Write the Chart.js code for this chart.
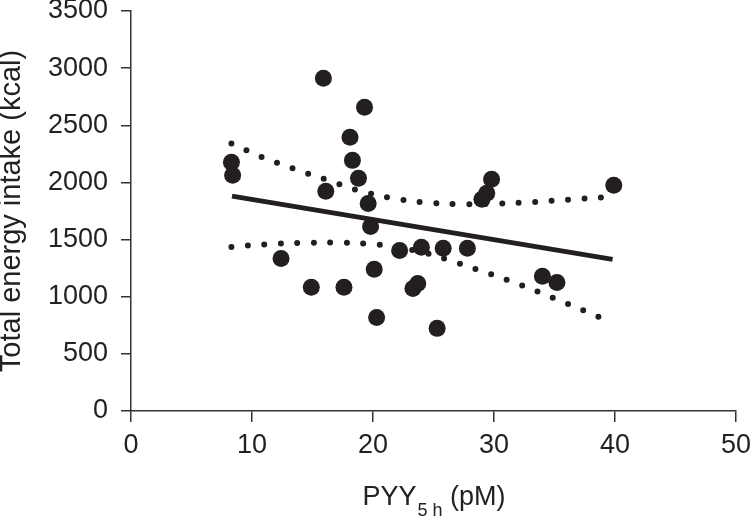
<!DOCTYPE html>
<html>
<head>
<meta charset="utf-8">
<script src="https://cdn.jsdelivr.net/npm/chart.js@4/dist/chart.umd.min.js"></script>
<style>
  body { margin: 0; background: #fff; }
  canvas { display: block; }
</style>
</head>
<body>
<canvas id="chart" width="753" height="516"></canvas>
<script>
// measured points: PYY 5h (pM) vs total energy intake (kcal)
const pyy = [8.3, 8.4, 15.9, 19.3, 18.1, 18.3, 18.8, 16.1, 19.6, 19.8, 12.4, 14.9, 17.6, 20.1,
  20.3, 22.2, 23.3, 23.7, 25.3, 24.0, 25.8, 27.8, 34.0, 35.2, 39.9, 29.8, 29.4, 29.0];
const energy = [2177, 2063, 2912, 2658, 2395, 2193, 2036, 1922, 1816, 1615, 1335, 1082, 1082, 1240,
  818, 1405, 1072, 1116, 723, 1433, 1425, 1425, 1179, 1125, 1975, 2027, 1905, 1852];

// regression line ends
const fitX = [8.35, 39.8];
const fitY = [1880, 1327];

// dotted confidence bands
const upperX = [8.3, 10.8, 13.4, 16.1, 18.7, 21.5, 24.4, 27.3, 30.3, 33.3, 36.2, 39.1];
const upperY = [2341, 2223, 2122, 2025, 1932, 1864, 1824, 1809, 1815, 1829, 1850, 1870];
const lowerX = [8.3, 11.2, 14.1, 17.1, 20.0, 21.5, 24.2, 27.0, 29.6, 32.3, 34.9, 37.5, 38.8];
const lowerY = [1435, 1459, 1470, 1474, 1459, 1441, 1387, 1295, 1202, 1100, 989, 875, 817];

const xTicks = [0, 10, 20, 30, 40, 50];
const yTicks = [0, 500, 1000, 1500, 2000, 2500, 3000, 3500];

const ink = '#231f20';
const axisInk = '#333';
const fontFam = '"Liberation Sans", Arial, sans-serif';

function toPts(xs, ys) {
  return xs.map((x, i) => ({ x: x, y: ys[i] }));
}

// x axis title with subscript
const xTitle = {
  id: 'xTitle',
  afterDraw(chart) {
    const ctx = chart.ctx;
    const a = chart.chartArea;
    const big = '27px ' + fontFam;
    const small = '18px ' + fontFam;
    ctx.save();
    ctx.fillStyle = '#222';
    ctx.textBaseline = 'alphabetic';
    ctx.font = big;
    const w1 = ctx.measureText('PYY').width;
    const w3 = ctx.measureText(' (pM)').width;
    ctx.font = small;
    const w2 = ctx.measureText('5 h').width;
    let x = (a.left + a.right) / 2 - (w1 + w2 + w3) / 2;
    const base = 505;
    ctx.font = big;
    ctx.fillText('PYY', x, base);
    x += w1 + 1;
    ctx.font = small;
    ctx.fillText('5 h', x, base + 11);
    x += w2;
    ctx.font = big;
    ctx.fillText(' (pM)', x, base);
    ctx.restore();
  }
};

const ctx = document.getElementById('chart').getContext('2d');
new Chart(ctx, {
  type: 'scatter',
  data: {
    datasets: [
      {
        type: 'line',
        data: toPts(upperX, upperY),
        borderColor: ink,
        borderWidth: 6,
        borderDash: [0, 16.5],
        borderCapStyle: 'round',
        pointRadius: 0,
        tension: 0.35,
        fill: false
      },
      {
        type: 'line',
        data: toPts(lowerX, lowerY),
        borderColor: ink,
        borderWidth: 6,
        borderDash: [0, 16.5],
        borderCapStyle: 'round',
        pointRadius: 0,
        tension: 0.35,
        fill: false
      },
      {
        type: 'line',
        data: toPts(fitX, fitY),
        borderColor: ink,
        borderWidth: 5,
        pointRadius: 0,
        fill: false
      },
      {
        data: toPts(pyy, energy),
        backgroundColor: ink,
        borderWidth: 0,
        pointRadius: 8.5,
        pointHoverRadius: 8.5
      }
    ]
  },
  options: {
    responsive: false,
    animation: false,
    events: [],
    layout: {
      autoPadding: false,
      padding: { top: 11, right: 17, bottom: 0, left: 0 }
    },
    plugins: {
      legend: { display: false },
      tooltip: { enabled: false }
    },
    scales: {
      x: {
        type: 'linear',
        min: 0,
        max: 50,
        afterBuildTicks: (s) => { s.ticks = xTicks.map(v => ({ value: v })); },
        afterFit: (s) => { s.height = 105; s.paddingLeft = 0; s.paddingRight = 0; },
        ticks: {
          color: '#222',
          font: { family: fontFam, size: 27 },
          padding: 7,
          maxRotation: 0,
          callback: (v) => String(v)
        },
        grid: {
          drawOnChartArea: false,
          drawTicks: true,
          tickLength: 11,
          color: axisInk,
          lineWidth: 1.5
        },
        border: { display: true, color: axisInk, width: 1.5 }
      },
      y: {
        min: 0,
        max: 3500,
        afterBuildTicks: (s) => { s.ticks = yTicks.map(v => ({ value: v })); },
        afterFit: (s) => { s.width = 131; s.paddingTop = 0; s.paddingBottom = 0; },
        ticks: {
          color: '#222',
          font: { family: fontFam, size: 27 },
          padding: 13,
          callback: (v) => String(v)
        },
        grid: {
          drawOnChartArea: false,
          drawTicks: true,
          tickLength: 10,
          color: axisInk,
          lineWidth: 1.5
        },
        border: { display: true, color: axisInk, width: 1.5 },
        title: {
          display: true,
          text: 'Total energy intake (kcal)',
          color: '#222',
          font: { family: fontFam, size: 29, lineHeight: 0.8 },
          padding: { top: 0, bottom: 0 }
        }
      }
    }
  },
  plugins: [xTitle]
});
</script>
</body>
</html>
